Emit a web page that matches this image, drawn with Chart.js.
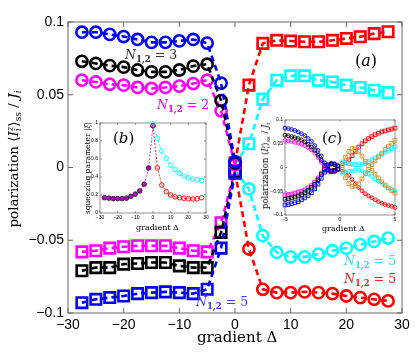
<!DOCTYPE html>
<html>
<head>
<meta charset="utf-8">
<script src="https://cdn.jsdelivr.net/npm/chart.js@4.4.1/dist/chart.umd.min.js"></script>
<style>
  body { margin: 0; background: #fff; }
  #wrap { position: relative; width: 415px; height: 357px; overflow: hidden; }
  canvas { position: absolute; }
  .tx { position: absolute; font-family: "DejaVu Serif", serif; white-space: nowrap; line-height: 1; }
  .tx sub { font-size: 0.68em; vertical-align: -0.3em; line-height: 0; }
  .nb sub { font-weight: bold; }
  .ss { display: inline-block; vertical-align: -0.35em; font-size: 0.62em; line-height: 0.95; text-align: left; }
  .rot { transform: translate(-50%, -50%) rotate(-90deg); }
</style>
</head>
<body>
<div id="wrap">
  <canvas id="main" width="415" height="357" style="left:0;top:0"></canvas>
  <canvas id="insetB" width="128" height="106" style="left:84px;top:116px"></canvas>
  <canvas id="insetC" width="140" height="112" style="left:262px;top:112px"></canvas>

  <div class="tx rot" style="left:15px;top:159px;font-size:13.5px">polarization ⟨<i>I</i><span class="ss"><i>z</i><br><i>i</i></span>⟩<sub>ss</sub> / <i>J</i><sub><i>i</i></sub></div>
  <div class="tx" style="left:197px;top:330px;font-size:15px">gradient Δ</div>

  <div class="tx nb" style="left:125px;top:49px;font-size:12.5px;color:#333"><i>N</i><sub>1,2</sub> = 3</div>
  <div class="tx nb" style="left:157px;top:99px;font-size:12.5px;color:#e600e6"><i>N</i><sub>1,2</sub> = 2</div>
  <div class="tx nb" style="left:196px;top:296px;font-size:12.5px;color:#3a3aff"><i>N</i><sub>1,2</sub> = 5</div>
  <div class="tx nb" style="left:344px;top:255px;font-size:12.5px;color:#2ee0e0"><i>N</i><sub>1,2</sub> = 5</div>
  <div class="tx nb" style="left:344px;top:273px;font-size:12.5px;color:#ee2222"><i>N</i><sub>1,2</sub> = 5</div>
  <div class="tx" style="left:355px;top:53px;font-size:16px">(<i>a</i>)</div>
  <div class="tx" style="left:113px;top:131px;font-size:15px">(<i>b</i>)</div>
  <div class="tx" style="left:322px;top:131px;font-size:15px">(<i>c</i>)</div>

  <div class="tx rot" style="left:88px;top:168px;font-size:7.5px">squeezing parameter |<i>ξ</i>|</div>
  <div class="tx" style="left:136px;top:224px;font-size:8px">gradient Δ</div>
  <div class="tx rot" style="left:266px;top:166px;font-size:8.5px">polarization ⟨<i>I</i><span class="ss"><i>z</i><br><i>i</i></span>⟩<sub>ss</sub> / <i>J</i><sub><i>i</i></sub></div>
  <div class="tx" style="left:322px;top:225px;font-size:8px">gradient Δ</div>
</div>

<script>
// ---- main panel (a) ----
const leftX = [-27.5, -25, -22.5, -20, -17.5, -15, -12.5, -10, -7.5, -5, -2.5, 0];
const rightX = [0, 2.5, 5, 7.5, 10, 12.5, 15, 17.5, 20, 22.5, 25, 27.5];

const blueCirc = [0.093, 0.093, 0.0915, 0.090, 0.088, 0.086, 0.086, 0.087, 0.088, 0.0855, 0.058, 0.004];
const blackCirc = [0.073, 0.0715, 0.070, 0.069, 0.067, 0.0657, 0.0657, 0.067, 0.0697, 0.071, 0.046, 0.003];
const magentaCirc = [0.060, 0.0588, 0.0572, 0.0566, 0.055, 0.0543, 0.055, 0.0559, 0.0577, 0.060, 0.039, 0.002];
const magentaSq = [-0.058, -0.0572, -0.0554, -0.0545, -0.0538, -0.0538, -0.0538, -0.0554, -0.0572, -0.058, -0.038, -0.002];
const blackSq = [-0.071, -0.0688, -0.0688, -0.0664, -0.066, -0.0653, -0.0653, -0.0676, -0.0688, -0.0688, -0.0446, -0.003];
const blueSq = [-0.0929, -0.0906, -0.0894, -0.0883, -0.0867, -0.086, -0.0855, -0.086, -0.0867, -0.0837, -0.0554, -0.004];

const redSq = [0.003, 0.0566, 0.0853, 0.0874, 0.0869, 0.0864, 0.0864, 0.0874, 0.0887, 0.0899, 0.092, 0.0933];
const cyanSq = [0.002, 0.0163, 0.047, 0.060, 0.063, 0.063, 0.060, 0.0588, 0.0566, 0.055, 0.0531, 0.0515];
const cyanCirc = [-0.002, -0.0147, -0.0469, -0.0584, -0.0614, -0.0614, -0.0595, -0.0572, -0.0554, -0.053, -0.0508, -0.0485];
const redCirc = [-0.003, -0.056, -0.0837, -0.086, -0.086, -0.0855, -0.086, -0.0867, -0.0883, -0.0894, -0.0906, -0.0917];

const mainXTicks = [-30, -20, -10, 0, 10, 20, 30];
const mainYTicks = [-0.1, -0.05, 0, 0.05, 0.1];

// ---- inset (b): squeezing parameter ----
const bLeftX = [-27.5, -25, -22.5, -20, -17.5, -15, -12.5, -10, -7.5, -5, -2.5, 0];
const bRightX = [0, 2.5, 5, 7.5, 10, 12.5, 15, 17.5, 20, 22.5, 25, 27.5];
const bPurple = [0.17, 0.165, 0.16, 0.16, 0.16, 0.165, 0.185, 0.21, 0.245, 0.32, 0.50, 0.97];
const bCyan = [0.99, 0.83, 0.69, 0.61, 0.53, 0.485, 0.44, 0.41, 0.39, 0.378, 0.367, 0.36];
const bRed = [0.97, 0.50, 0.31, 0.237, 0.20, 0.18, 0.17, 0.163, 0.158, 0.156, 0.158, 0.17];
const bXTicks = [-30, -20, -10, 0, 10, 20, 30];
const bYTicks = [0, 0.2, 0.4, 0.6, 0.8, 1];

// ---- inset (c): polarization zoom ----
const cLeftX = [-5, -4.7, -4.4, -4.1, -3.8, -3.5, -3.2, -2.9, -2.6, -2.3, -2.0, -1.7, -1.4, -1.1, -0.8, -0.5, -0.2];
const cBlueCirc = [0.083, 0.082, 0.080, 0.078, 0.075, 0.071, 0.067, 0.061, 0.055, 0.046, 0.036, 0.024, 0.010, 0.006, 0.009, 0.008, 0.004];
const cBlackCirc = [0.068, 0.067, 0.065, 0.063, 0.061, 0.058, 0.054, 0.049, 0.043, 0.036, 0.026, 0.015, 0.004, 0.004, 0.007, 0.006, 0.003];
const cMagCirc = [0.057, 0.056, 0.055, 0.053, 0.051, 0.049, 0.046, 0.042, 0.037, 0.030, 0.021, 0.011, 0.002, 0.005, 0.008, 0.007, 0.003];
const cMagSq = [-0.058, -0.057, -0.056, -0.054, -0.052, -0.050, -0.047, -0.043, -0.038, -0.031, -0.022, -0.012, -0.003, -0.005, -0.008, -0.007, -0.003];
const cBlackSq = [-0.067, -0.066, -0.064, -0.062, -0.060, -0.057, -0.053, -0.048, -0.042, -0.035, -0.026, -0.015, -0.004, -0.004, -0.007, -0.006, -0.003];
const cBlueSq = [-0.079, -0.078, -0.076, -0.074, -0.072, -0.068, -0.064, -0.059, -0.053, -0.045, -0.035, -0.023, -0.010, -0.006, -0.009, -0.008, -0.004];

const cRightX = [0.2, 0.5, 0.8, 1.1, 1.4, 1.7, 2.0, 2.3, 2.6, 2.9, 3.2, 3.5, 3.8, 4.1, 4.4, 4.7, 5.0];
const cRedUp = [0.008, 0.010, 0.016, 0.025, 0.034, 0.043, 0.050, 0.056, 0.061, 0.065, 0.069, 0.072, 0.075, 0.077, 0.079, 0.081, 0.083];
const cRedLow = [-0.008, -0.010, -0.016, -0.025, -0.034, -0.042, -0.049, -0.055, -0.060, -0.064, -0.068, -0.072, -0.075, -0.078, -0.080, -0.082, -0.084];
const cOrangeUp = [0.004, 0.022, 0.034, 0.040, 0.039, 0.034, 0.024, 0.013, 0.004, 0.006, 0.014, 0.022, 0.030, 0.038, 0.045, 0.051, 0.057];
const cOrangeLow = [-0.004, -0.022, -0.034, -0.040, -0.039, -0.034, -0.024, -0.013, -0.004, -0.006, -0.014, -0.022, -0.030, -0.037, -0.043, -0.049, -0.054];
const cCyanUp = [0.012, 0.010, 0.008, 0.007, 0.006, 0.006, 0.007, 0.009, 0.012, 0.016, 0.020, 0.024, 0.028, 0.032, 0.036, 0.040, 0.043];
const cCyanLow = [-0.012, -0.010, -0.008, -0.007, -0.006, -0.006, -0.007, -0.010, -0.014, -0.019, -0.024, -0.029, -0.034, -0.039, -0.043, -0.046, -0.049];
const cXTicks = [-5, 0, 5];
const cYTicks = [-0.1, -0.05, 0, 0.05, 0.1];

const BLUE = "#0000ff", BLACK = "#000000", MAGENTA = "#ff00ff";
const RED = "#ff0000", CYAN = "#00ffff", ORANGE = "#d9902a";

const fmt = (v) => {
  const s = String(Math.round(v * 1000) / 1000);
  return s.replace("-", "\u2212");
};

// frame with inward ticks on all four sides
const frameTicks = {
  id: "frameTicks",
  beforeDatasetsDraw(chart, args, opts) {
    const { ctx, chartArea: a, scales } = chart;
    const len = opts.len || 5;
    ctx.save();
    ctx.strokeStyle = opts.color || "#555";
    ctx.lineWidth = opts.width || 1;
    ctx.strokeRect(a.left, a.top, a.right - a.left, a.bottom - a.top);
    ctx.beginPath();
    scales.x.ticks.forEach((t) => {
      const px = scales.x.getPixelForValue(t.value);
      ctx.moveTo(px, a.bottom); ctx.lineTo(px, a.bottom - len);
      ctx.moveTo(px, a.top); ctx.lineTo(px, a.top + len);
    });
    scales.y.ticks.forEach((t) => {
      const py = scales.y.getPixelForValue(t.value);
      ctx.moveTo(a.left, py); ctx.lineTo(a.left + len, py);
      ctx.moveTo(a.right, py); ctx.lineTo(a.right - len, py);
    });
    ctx.stroke();
    ctx.restore();
  },
};

function series(xs, ys, color, style, opt) {
  return {
    data: xs.map((x, i) => ({ x: x, y: ys[i] })),
    showLine: true,
    borderColor: color,
    borderWidth: opt.line,
    borderDash: opt.dash,
    pointStyle: style,
    pointRadius: style === "rect" ? opt.rect : opt.circ,
    pointBorderWidth: opt.pw,
    pointBorderColor: opt.pbc || color,
    pointBackgroundColor: opt.fill || "rgba(0,0,0,0)",
    pointHoverRadius: 0,
    clip: false,
  };
}

function axes(xMin, xMax, xTicks, yMin, yMax, yTicks, w, h, font, pad) {
  const tickFont = { family: "'Liberation Sans', Arial, sans-serif", size: font };
  return {
    x: {
      type: "linear", min: xMin, max: xMax,
      afterBuildTicks: (s) => { s.ticks = xTicks.map((v) => ({ value: v })); },
      afterFit: (s) => { s.height = h; },
      grid: { display: false, drawTicks: false },
      border: { display: false },
      ticks: { color: "#000", font: tickFont, padding: pad, maxRotation: 0, autoSkip: false, callback: fmt },
    },
    y: {
      type: "linear", min: yMin, max: yMax,
      afterBuildTicks: (s) => { s.ticks = yTicks.map((v) => ({ value: v })); },
      afterFit: (s) => { s.width = w; },
      grid: { display: false, drawTicks: false },
      border: { display: false },
      ticks: { color: "#000", font: tickFont, padding: pad, autoSkip: false, callback: fmt },
    },
  };
}

const big = { line: 2.6, dash: [6, 4], rect: 7.4, circ: 5.6, pw: 2.6 };

new Chart(document.getElementById("main"), {
  type: "scatter",
  data: {
    datasets: [
      series(leftX, blueCirc, BLUE, "circle", big),
      series(leftX, blackCirc, BLACK, "circle", big),
      series(leftX, magentaCirc, MAGENTA, "circle", big),
      series(leftX, blueSq, BLUE, "rect", big),
      series(leftX, blackSq, BLACK, "rect", big),
      series(leftX, magentaSq, MAGENTA, "rect", big),
      series(rightX, redSq, RED, "rect", big),
      series(rightX, cyanSq, CYAN, "rect", big),
      series(rightX, cyanCirc, CYAN, "circle", big),
      series(rightX, redCirc, RED, "circle", big),
    ],
  },
  plugins: [frameTicks],
  options: {
    responsive: false,
    animation: false,
    layout: { padding: { top: 22, right: 13, left: 0, bottom: 0 } },
    plugins: { legend: { display: false }, tooltip: { enabled: false }, frameTicks: { len: 5, color: "#666" } },
    scales: axes(-30, 30, mainXTicks, -0.1, 0.1, mainYTicks, 68, 44, 14, 4),
  },
});

const smallB = { line: 0.8, dash: [2, 1.5], rect: 3, circ: 2.3, pw: 0.9 };
new Chart(document.getElementById("insetB"), {
  type: "scatter",
  data: {
    datasets: [
      series(bRightX, bCyan, CYAN, "circle", smallB),
      series(bRightX, bRed, RED, "circle", smallB),
      series(bLeftX, bPurple, "#b000c0", "circle", Object.assign({}, smallB, { fill: "#c000c8", pbc: "#222" })),
    ],
  },
  plugins: [frameTicks],
  options: {
    responsive: false,
    animation: false,
    layout: { padding: { top: 7, right: 6, left: 0, bottom: 0 } },
    plugins: { legend: { display: false }, tooltip: { enabled: false }, frameTicks: { len: 2, color: "#777", width: 0.8 } },
    scales: axes(-30, 30, bXTicks, 0, 1, bYTicks, 16, 9, 5, 2),
  },
});

const smallC = { line: 0.7, dash: [], rect: 2.6, circ: 1.9, pw: 0.9 };
new Chart(document.getElementById("insetC"), {
  type: "scatter",
  data: {
    datasets: [
      series(cLeftX, cBlueCirc, BLUE, "circle", smallC),
      series(cLeftX, cBlackCirc, BLACK, "circle", smallC),
      series(cLeftX, cMagCirc, MAGENTA, "circle", smallC),
      series(cLeftX, cBlueSq, BLUE, "rect", smallC),
      series(cLeftX, cBlackSq, BLACK, "rect", smallC),
      series(cLeftX, cMagSq, MAGENTA, "rect", smallC),
      series(cRightX, cOrangeUp, ORANGE, "rect", smallC),
      series(cRightX, cOrangeLow, ORANGE, "rect", smallC),
      series(cRightX, cCyanUp, CYAN, "rect", smallC),
      series(cRightX, cCyanLow, CYAN, "circle", smallC),
      series(cRightX, cRedUp, RED, "rect", smallC),
      series(cRightX, cRedLow, RED, "circle", smallC),
    ],
  },
  plugins: [frameTicks],
  options: {
    responsive: false,
    animation: false,
    layout: { padding: { top: 8, right: 7, left: 0, bottom: 0 } },
    plugins: { legend: { display: false }, tooltip: { enabled: false }, frameTicks: { len: 2, color: "#777", width: 0.8 } },
    scales: axes(-5, 5, cXTicks, -0.1, 0.1, cYTicks, 23, 9, 5, 2),
  },
});
</script>
</body>
</html>
